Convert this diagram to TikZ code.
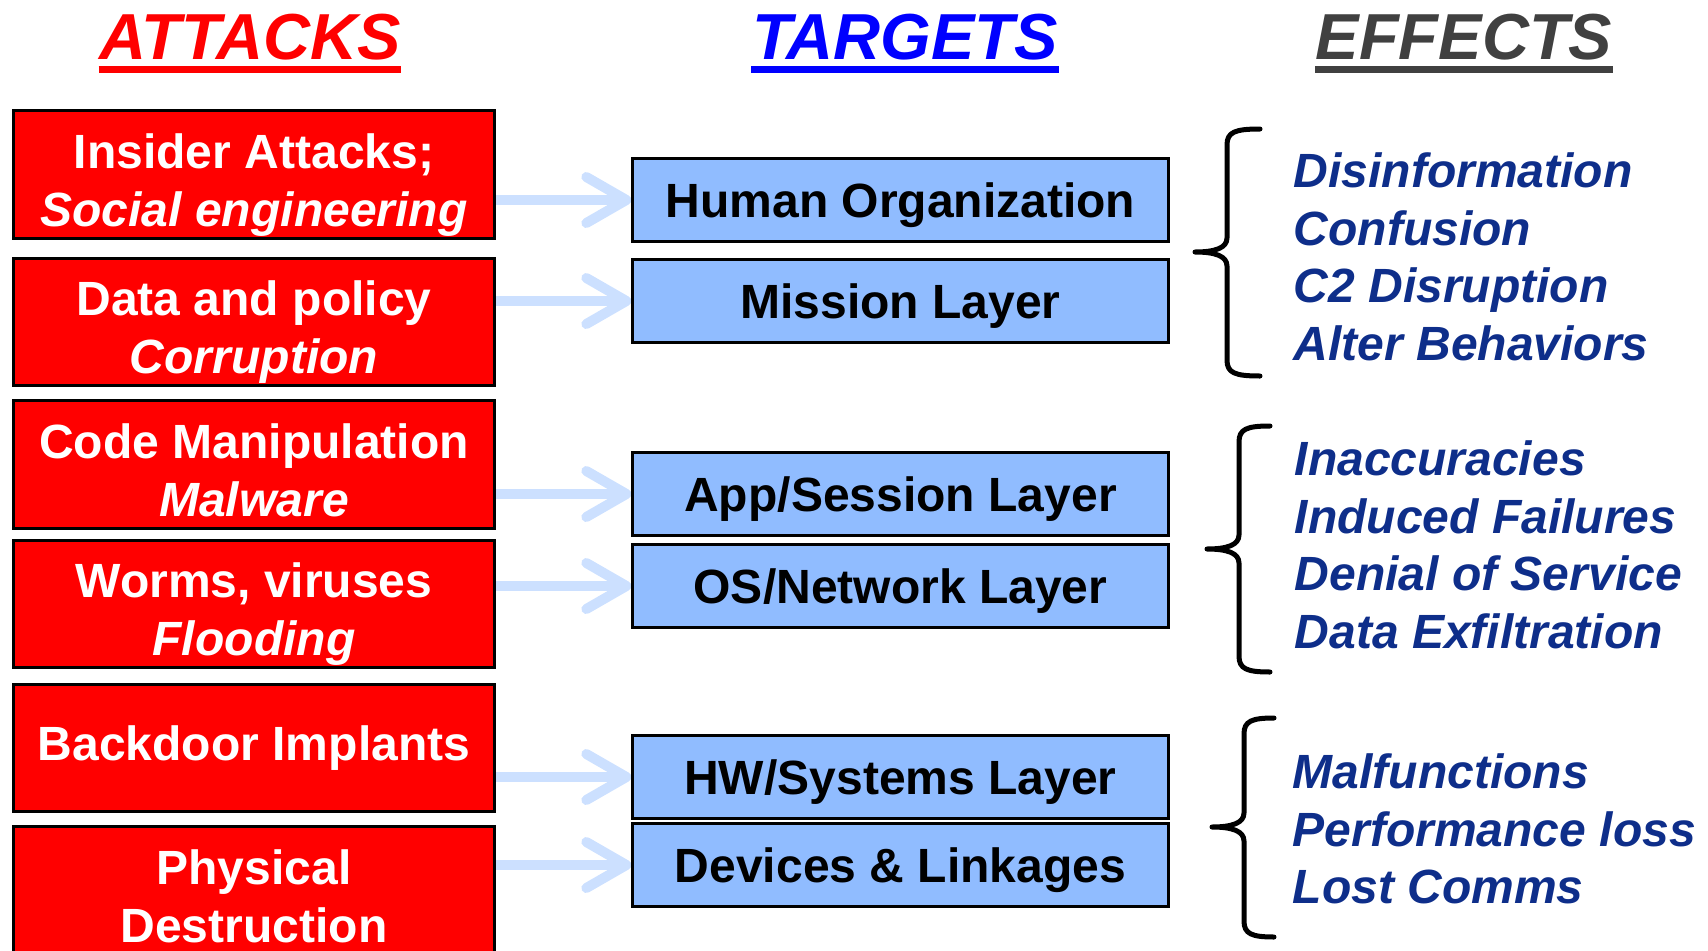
\documentclass[tikz,border=0pt]{standalone}
\usepackage{fontspec}
\setmainfont{Liberation Sans}
\usepackage{tikz}
\usetikzlibrary{arrows.meta,backgrounds,calc,positioning}
\definecolor{atkred}{RGB}{255,0,0}
\definecolor{tgtblue}{RGB}{144,188,255}
\definecolor{arrblue}{RGB}{204,224,255}
\definecolor{fxblue}{RGB}{14,46,138}
\definecolor{fxgray}{RGB}{64,64,64}
\newcommand{\tstrut}{\rule{0pt}{.55cm}}
\newcommand{\bstrut}{\rule[-.1cm]{0pt}{.1cm}}
% brace: tip x, stem x, end x, top y, tip y, bottom y
\newcommand{\fxbrace}[6]{%
  \draw[brc] (#3,#4) .. controls (#2+8,#4) and (#2,#4+3) .. (#2,#4+16)
    -- (#2,#5-14) .. controls (#2,#5-4) and (#2-12,#5) .. (#1,#5)
    .. controls (#2-12,#5) and (#2,#5+4) .. (#2,#5+14)
    -- (#2,#6-16) .. controls (#2,#6-3) and (#2+8,#6) .. (#3,#6);}
\tikzset{%
    atk/.style={draw=black,line width=.03cm,fill=atkred,text=white,minimum width=4.8cm,minimum height=1.27cm,inner sep=0pt,align=center,font=\fontsize{13.66pt}{16.5pt}\selectfont\bfseries},
    tgt/.style={draw=black,line width=.03cm,fill=tgtblue,minimum width=5.35cm,minimum height=.82cm,inner sep=0pt,text height=.45cm,text depth=.1cm,font=\fontsize{13.66pt}{16.5pt}\selectfont\bfseries},
    hit/.style={draw=arrblue,line width=.1cm,-{Straight Barb[length=.4cm,width=.46cm,round]}},
    fx/.style={anchor=west,inner sep=0pt,align=left,text=fxblue,font=\fontsize{13.66pt}{16.36pt}\selectfont\bfseries\itshape},
    ttl/.style={anchor=base,inner sep=0pt,font=\fontsize{18.5pt}{22pt}\selectfont\bfseries\itshape},
    brc/.style={line width=.05cm,line cap=round,line join=round},
}
\tikzstyle{uline}=[line width=.07cm]

\begin{document}
\begin{tikzpicture}[x=0.01cm,y=-0.01cm]
    \useasboundingbox (0,0) rectangle (1708,951);
    % headings
    \node[ttl,text=atkred] (atk) at (250,59) {ATTACKS};
    \node[ttl,text=blue] (tgt) at (905,59) {TARGETS};
    \node[ttl,text=fxgray] (eff) at (1464,59) {EFFECTS};
    \draw[uline,atkred] ([yshift=-.105cm]atk.base west) -- ([yshift=-.105cm]atk.base east);
    \draw[uline,blue] ([yshift=-.105cm]tgt.base west) -- ([yshift=-.105cm]tgt.base east);
    \draw[uline,fxgray] ([yshift=-.105cm]eff.base west) -- ([yshift=-.105cm]eff.base east);
    % attacks
    \node[atk] (a1) at (254,174.5) {\tstrut Insider Attacks;\\\textit{Social engineering}\bstrut};
    \node[atk] (a2) at (254,322) {\tstrut Data and policy\\\textit{Corruption}\bstrut};
    \node[atk] (a3) at (254,464.5) {\tstrut Code Manipulation\\\textit{Malware}\bstrut};
    \node[atk] (a4) at (254,604) {\tstrut Worms, viruses\\\textit{Flooding}\bstrut};
    \node[atk] (a5) at (254,748) {Backdoor Implants};
    \node[atk] (a6) at (254,890.5) {\tstrut Physical\\Destruction\bstrut};
    % targets
    \node[tgt] (t1) at (900.5,200) {Human Organization};
    \node[tgt] (t2) at (900.5,301) {Mission Layer};
    \node[tgt] (t3) at (900.5,494) {App/Session Layer};
    \node[tgt] (t4) at (900.5,586) {OS/Network Layer};
    \node[tgt] (t5) at (900.5,777) {HW/Systems Layer};
    \node[tgt] (t6) at (900.5,865) {Devices \& Linkages};
    \begin{scope}[on background layer]
    \path (t1.west -| a1.east) edge[hit] (t1.west);
    \path (t2.west -| a2.east) edge[hit] (t2.west);
    \path (t3.west -| a3.east) edge[hit] (t3.west);
    \path (t4.west -| a4.east) edge[hit] (t4.west);
    \path (t5.west -| a5.east) edge[hit] (t5.west);
    \path (t6.west -| a6.east) edge[hit] (t6.west);
    \end{scope}
    % effects
    \fxbrace{1195}{1227}{1260}{129}{252}{376}
    \fxbrace{1207}{1239}{1270}{426}{549}{672}
    \fxbrace{1212}{1244}{1274}{718}{827}{937}
    \node[fx] (e1) at (1293,257) {Disinformation\\Confusion\\C2 Disruption\\Alter Behaviors};
    \node[fx] (e2) at (1294,545) {Inaccuracies\\Induced Failures\\Denial of Service\\Data Exfiltration};
    \node[fx] (e3) at (1292,829) {Malfunctions\\Performance loss\\Lost Comms};
\end{tikzpicture}
\end{document}
